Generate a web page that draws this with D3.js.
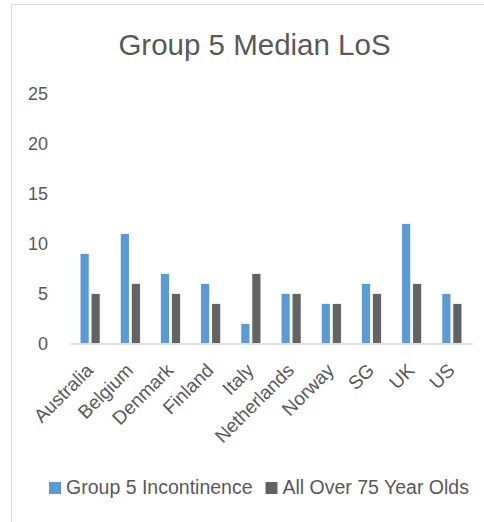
<!DOCTYPE html>
<html>
<head>
<meta charset="utf-8">
<script src="https://cdn.jsdelivr.net/npm/d3@7"></script>
<style>
  body { margin: 0; background: #fff; }
  text { font-family: 'Liberation Sans', Arial, sans-serif; fill: #595959; }
</style>
</head>
<body>
<div id="chart"></div>
<script>
// chart data
const countries = ['Australia', 'Belgium', 'Denmark', 'Finland', 'Italy', 'Netherlands', 'Norway', 'SG', 'UK', 'US'];
const incontinence = [9, 11, 7, 6, 2, 5, 4, 6, 12, 5];
const over75 = [5, 6, 5, 4, 7, 5, 4, 5, 6, 4];
const yTicks = [0, 5, 10, 15, 20, 25];
const seriesNames = ['Group 5 Incontinence', 'All Over 75 Year Olds'];
const colors = ['#5b9bd5', '#636363'];

const W = 484, H = 522;
const margin = {top: 93.5, right: 12, bottom: 178.5, left: 70};
const width = W - margin.left - margin.right;
const height = H - margin.top - margin.bottom;

const svg = d3.select('#chart')
  .append('svg')
  .attr('width', W)
  .attr('height', H);

// outer chart border (runs off the right / bottom edge)
svg.append('rect')
  .attr('x', 11.5)
  .attr('y', 4.5)
  .attr('width', 500)
  .attr('height', 540)
  .attr('fill', 'none')
  .attr('stroke', '#d9d9d9');

// title
svg.append('text')
  .attr('x', 254.5)
  .attr('y', 55)
  .attr('text-anchor', 'middle')
  .style('font-size', '29.5px')
  .text('Group 5 Median LoS');

const g = svg.append('g')
  .attr('transform', `translate(${margin.left},${margin.top})`);

// scales
const x = d3.scaleBand()
  .domain(countries)
  .range([0, width]);
const y = d3.scaleLinear()
  .domain([0, 25])
  .range([height, 0]);

// y axis labels only
g.append('g')
  .style('font-size', '18px')
  .call(d3.axisLeft(y).tickValues(yTicks).tickSize(0).tickPadding(22))
  .call(a => a.select('.domain').remove())
  .selectAll('text')
  .attr('fill', '#595959')
  .style('font-family', "'Liberation Sans', Arial, sans-serif");

// bars
const barW = 9, gap = 2;
const data = countries.map((c, i) => ({c, vals: [incontinence[i], over75[i]]}));
const groups = g.selectAll('.grp')
  .data(data)
  .join('g')
  .attr('class', 'grp')
  .attr('transform', d => `translate(${x(d.c) + x.bandwidth() / 2},0)`);

groups.selectAll('rect')
  .data(d => d.vals.map((v, k) => ({v, k})))
  .join('rect')
  .attr('x', d => d.k === 0 ? -(barW + gap / 2) : gap / 2)
  .attr('y', d => y(d.v))
  .attr('width', barW)
  .attr('height', d => height - y(d.v))
  .attr('fill', d => colors[d.k])
  .attr('stroke', '#fff')
  .attr('stroke-width', 0.75);

// x axis
g.append('g')
  .attr('transform', `translate(0,${height})`)
  .style('font-size', '19px')
  .call(d3.axisBottom(x).tickSize(0).tickPadding(0))
  .call(a => a.select('.domain').attr('stroke', '#d9d9d9').attr('stroke-width', 1.5))
  .selectAll('text')
  .attr('fill', '#595959')
  .style('font-family', "'Liberation Sans', Arial, sans-serif")
  .attr('text-anchor', 'end')
  .attr('dy', null)
  .attr('transform', 'translate(4,28) rotate(-45)');

// legend
const legend = svg.append('g');
let lx = 0;
seriesNames.forEach((name, i) => {
  const item = legend.append('g').attr('transform', `translate(${lx},0)`);
  item.append('rect')
    .attr('x', 0).attr('y', -12)
    .attr('width', 12).attr('height', 12)
    .attr('fill', colors[i]);
  const t = item.append('text')
    .attr('x', 17).attr('y', 0)
    .style('font-size', '19.5px')
    .text(name);
  lx += 17 + t.node().getComputedTextLength() + 13;
});
const legendW = lx - 13;
legend.attr('transform', `translate(${259 - legendW / 2},494)`);
</script>
</body>
</html>
